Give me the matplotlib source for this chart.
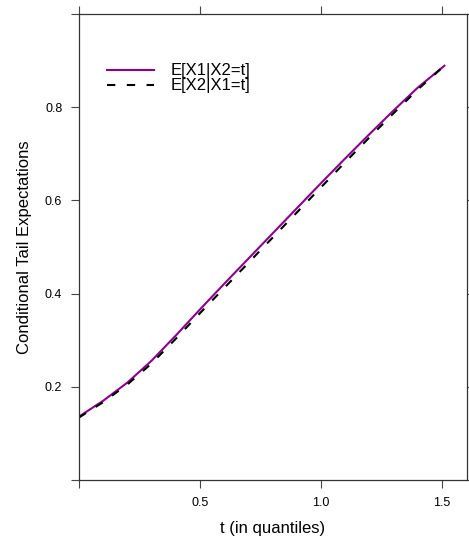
import matplotlib
matplotlib.use("Agg")
import matplotlib.pyplot as plt

plt.rcParams['font.family'] = ['Liberation Sans', 'DejaVu Sans']

# t values (quantiles) and the two conditional tail expectation curves
t = [0.0, 0.1, 0.2, 0.3, 0.4, 0.5, 0.6, 0.7, 0.8, 0.9, 1.0, 1.1, 1.2, 1.3, 1.4, 1.51]
e_x1_x2 = [0.136, 0.170, 0.209, 0.256, 0.310, 0.366, 0.421, 0.475, 0.529, 0.583,
           0.637, 0.690, 0.742, 0.793, 0.842, 0.889]
e_x2_x1 = [0.134, 0.167, 0.205, 0.250, 0.303, 0.358, 0.412, 0.466, 0.520, 0.574,
           0.628, 0.682, 0.735, 0.787, 0.838, 0.889]

x_ticks = [0.0, 0.5, 1.0, 1.5]
x_labels = ["", "0.5", "1.0", "1.5"]
y_ticks = [0.0, 0.2, 0.4, 0.6, 0.8, 1.0]
y_labels = ["", "0.2", "0.4", "0.6", "0.8", ""]

fig = plt.figure(figsize=(4.69, 5.41), dpi=100)
ax = fig.add_axes([0.1684, 0.1128, 0.8266, 0.8613])

ax.plot(t, e_x1_x2, color="#8b008b", lw=1.5, label="E[X1|X2=t]")
ax.plot(t, e_x2_x1, color="black", lw=1.5, dashes=(4, 5.5), label="E[X2|X1=t]")

ax.set_xlim(0, 1.602)
ax.set_ylim(0, 1.0)
ax.set_xticks(x_ticks)
ax.set_xticklabels(x_labels)
ax.set_yticks(y_ticks)
ax.set_yticklabels(y_labels)
ax.tick_params(direction="out", length=6, width=0.8, color="#444444",
               labelsize=9, pad=6, top=True, right=True)

for s in ax.spines.values():
    s.set_color("#333333")
    s.set_linewidth(0.9)

ax.set_xlabel("t (in quantiles)", fontsize=12, labelpad=9)
ax.set_ylabel("Conditional Tail Expectations", fontsize=12, labelpad=9)

ax.legend(loc="upper left", bbox_to_anchor=(0.072, 0.894), frameon=False,
          fontsize=12, handlelength=2.8, handletextpad=1.0, labelspacing=0.0,
          borderpad=0, borderaxespad=0)

fig.savefig("out.png", dpi=100)
